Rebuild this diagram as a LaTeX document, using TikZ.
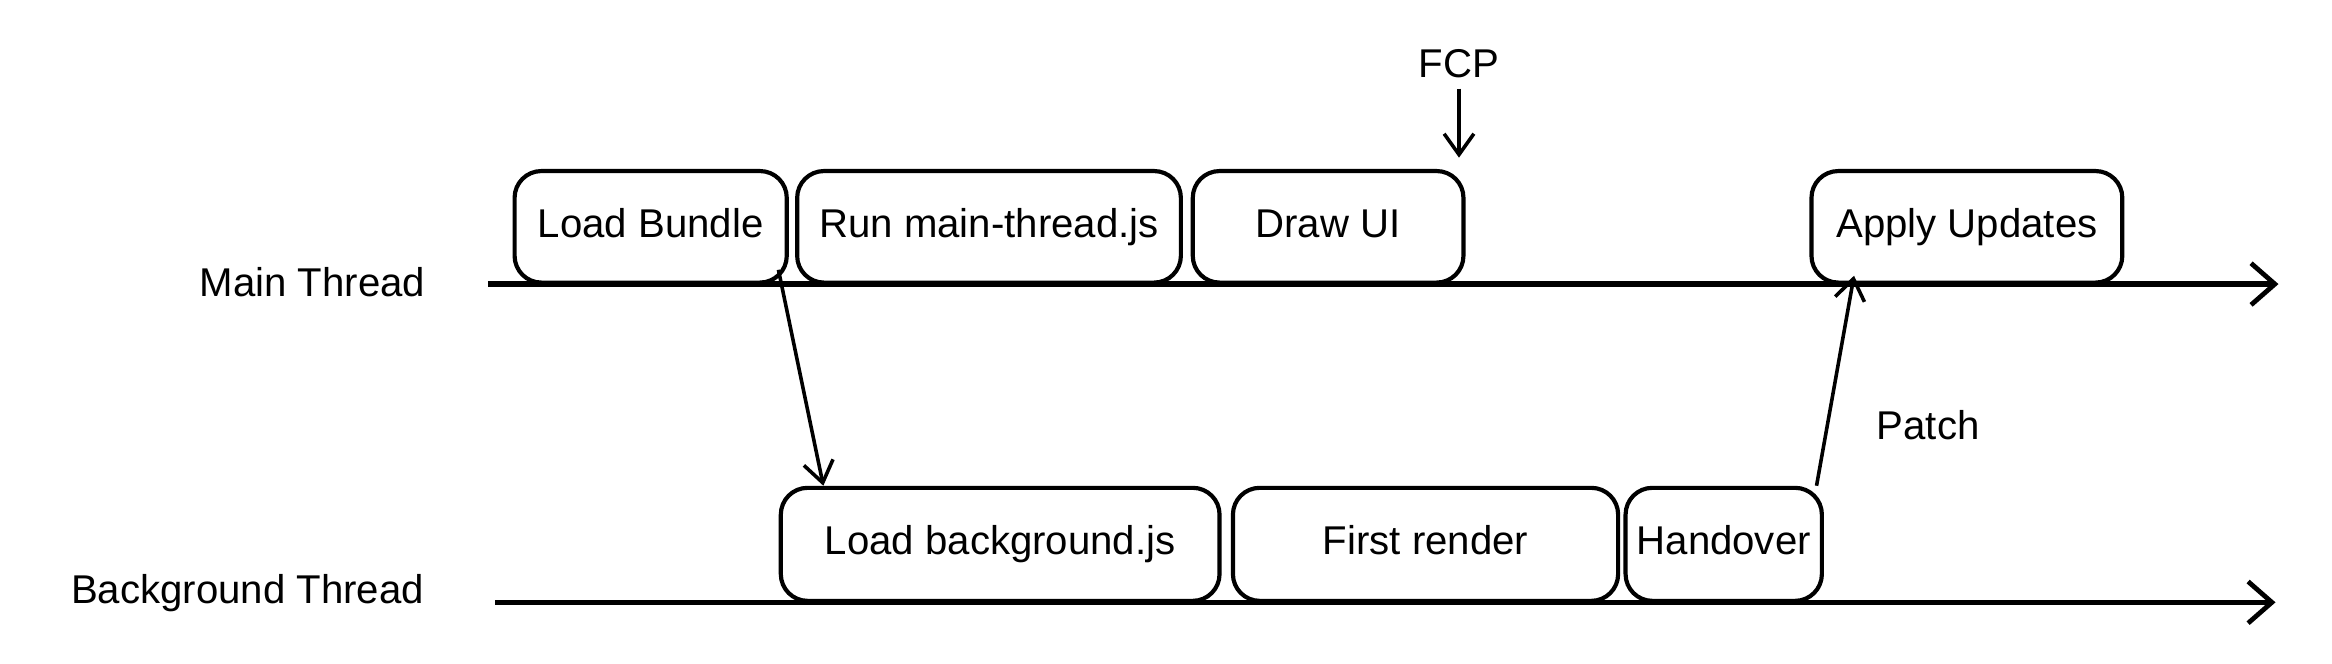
\documentclass[tikz,border=0pt]{standalone}
\usepackage{fontspec}
\setmainfont{Liberation Sans}
\usetikzlibrary{arrows.meta}
\begin{document}
\begin{tikzpicture}[x=0.5pt,y=-0.5pt,
  box/.style={draw,line width=1.4pt,rounded corners=9pt,inner sep=0pt,text height=10pt,text depth=3pt,font=\fontsize{13.5}{15}\selectfont},
  lbl/.style={font=\fontsize{13.5}{15}\selectfont},
  tl/.style={line width=1.8pt,-{Straight Barb[length=8pt,width=14pt,line width=1.6pt]}},
  ar/.style={line width=1.2pt,-{Straight Barb[length=7pt,width=10pt,line width=1.2pt]}}]
\useasboundingbox (0,0) rectangle (1568,446);
% timelines
\coordinate (m0) at (328,191); \coordinate (m1) at (1532,191);
\coordinate (b0) at (333,405); \coordinate (b1) at (1530,405);
\draw[tl] (m0) -- (m1);
\draw[tl] (b0) -- (b1);
\node[lbl,anchor=east] (mt) at (293,190) {Main Thread};
\node[lbl,anchor=east] (bt) at (292,399) {Background Thread};
% main boxes
\node[box,minimum width=91.5pt,minimum height=37.5pt] (lb) at (437.5,152.5) {Load Bundle};
\node[box,minimum width=129pt,minimum height=37.5pt] (rm) at (665,152.5) {Run main-thread.js};
\node[box,minimum width=91pt,minimum height=37.5pt] (du) at (893,152.5) {Draw UI};
\node[box,minimum width=104.5pt,minimum height=37.5pt] (au) at (1322.5,152.5) {Apply Updates};
% background boxes
\node[box,minimum width=147.5pt,minimum height=38pt] (lbg) at (672.5,366) {Load background.js};
\node[box,minimum width=129.5pt,minimum height=38pt] (fr) at (958.5,366) {First render};
\node[box,minimum width=66pt,minimum height=38pt] (ho) at (1159,366) {Handover};
% FCP
\node[lbl] (fcp) at (981,43) {FCP};
\coordinate (fcpE) at (981,106);
\draw[ar] (fcp.south) -- (fcpE);
% arrows
\draw[ar] ([xshift=-3.5pt,yshift=5pt]lb.south east) -- ([xshift=15pt]lbg.north west);
\draw[ar] ([xshift=-2.5pt]ho.north east) -- node[lbl,right,xshift=10pt,yshift=-15pt] {Patch} ([xshift=15pt,yshift=3pt]au.south west);
\end{tikzpicture}
\end{document}
